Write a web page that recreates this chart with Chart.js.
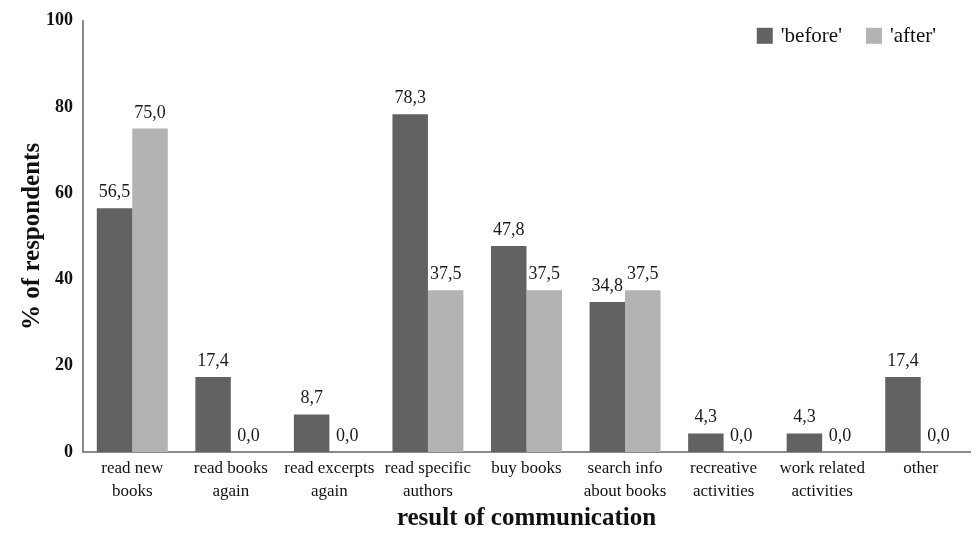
<!DOCTYPE html>
<html>
<head>
<meta charset="utf-8">
<script src="https://cdn.jsdelivr.net/npm/chart.js@4/dist/chart.umd.min.js"></script>
<style>
  html, body { margin: 0; padding: 0; background: #fff; }
  #wrap { width: 979px; height: 534px; }
</style>
</head>
<body>
<div id="wrap"><canvas id="chart"></canvas></div>
<script>
const categories = [
  ['read new', 'books'],
  ['read books', 'again'],
  ['read excerpts', 'again'],
  ['read specific', 'authors'],
  ['buy books'],
  ['search info', 'about books'],
  ['recreative', 'activities'],
  ['work related', 'activities'],
  ['other']
]
const before = [56.5, 17.4, 8.7, 78.3, 47.8, 34.8, 4.3, 4.3, 17.4]
const after  = [75.0, 0.0, 0.0, 37.5, 37.5, 37.5, 0.0, 0.0, 0.0]
const yTicks = [0, 20, 40, 60, 80, 100]

const serif = '"Liberation Serif", "Times New Roman", serif'
const axisGray = '#8a8a8a'

// values above each bar, written with a decimal comma
const valueLabels = {
  id: 'valueLabels',
  afterDatasetsDraw(chart) {
    const ctx = chart.ctx
    ctx.save()
    ctx.font = '18px ' + serif
    ctx.fillStyle = '#1a1a1a'
    ctx.textAlign = 'center'
    ctx.textBaseline = 'alphabetic'
    chart.data.datasets.forEach((ds, i) => {
      chart.getDatasetMeta(i).data.forEach((bar, j) => {
        const txt = ds.data[j].toFixed(1).replace('.', ',')
        ctx.fillText(txt, bar.x, bar.y - 11)
      })
    })
    ctx.restore()
  }
}

// legend in the top right corner of the plot
const cornerLegend = {
  id: 'cornerLegend',
  afterDraw(chart) {
    const ctx = chart.ctx
    const right = chart.chartArea.right - 34
    const y = chart.chartArea.top + 15
    ctx.save()
    ctx.font = '21px ' + serif
    ctx.textBaseline = 'middle'
    const items = chart.data.datasets.map(ds => ({
      text: ds.label, color: ds.backgroundColor, w: ctx.measureText(ds.label).width
    }))
    const box = 16, gap = 8, spacing = 24
    let total = items.reduce((s, it) => s + box + gap + it.w, 0) + spacing * (items.length - 1)
    let x = right - total
    items.forEach(it => {
      ctx.fillStyle = it.color
      ctx.fillRect(x, y - box / 2, box, box)
      x += box + gap
      ctx.fillStyle = '#111'
      ctx.fillText(it.text, x, y + 1)
      x += it.w + spacing
    })
    ctx.restore()
  }
}

new Chart(document.getElementById('chart'), {
  type: 'bar',
  data: {
    labels: categories,
    datasets: [
      { label: "'before'", data: before, backgroundColor: '#626262' },
      { label: "'after'",  data: after,  backgroundColor: '#b3b3b3' }
    ]
  },
  options: {
    responsive: true,
    maintainAspectRatio: false,
    animation: false,
    layout: { padding: { left: 18, right: 9, top: 2, bottom: 0 } },
    datasets: { bar: { categoryPercentage: 0.72, barPercentage: 1.0 } },
    plugins: {
      tooltip: { enabled: false },
      legend: { display: false }
    },
    scales: {
      x: {
        grid: { display: false, drawTicks: false },
        border: { color: axisGray, width: 2 },
        ticks: {
          color: '#111',
          padding: 5,
          maxRotation: 0,
          autoSkip: false,
          font: { family: serif, size: 17, lineHeight: 1.35 }
        },
        title: {
          display: true,
          text: 'result of communication',
          color: '#111',
          padding: { top: 14, bottom: 0 },
          font: { family: serif, size: 25, weight: 'bold' }
        },
        afterFit(scale) { scale.height = 82 }
      },
      y: {
        min: 0,
        max: 100,
        afterBuildTicks(scale) { scale.ticks = yTicks.map(v => ({ value: v })) },
        grid: { display: false, drawTicks: false },
        border: { color: axisGray, width: 2 },
        ticks: {
          color: '#111',
          padding: 10,
          font: { family: serif, size: 18, weight: 'bold' }
        },
        title: {
          display: true,
          text: '% of respondents',
          color: '#111',
          padding: { top: 0, bottom: 2 },
          font: { family: serif, size: 25, weight: 'bold' }
        },
        afterFit(scale) { scale.width = 65 }
      }
    }
  },
  plugins: [valueLabels, cornerLegend]
})
</script>
</body>
</html>
